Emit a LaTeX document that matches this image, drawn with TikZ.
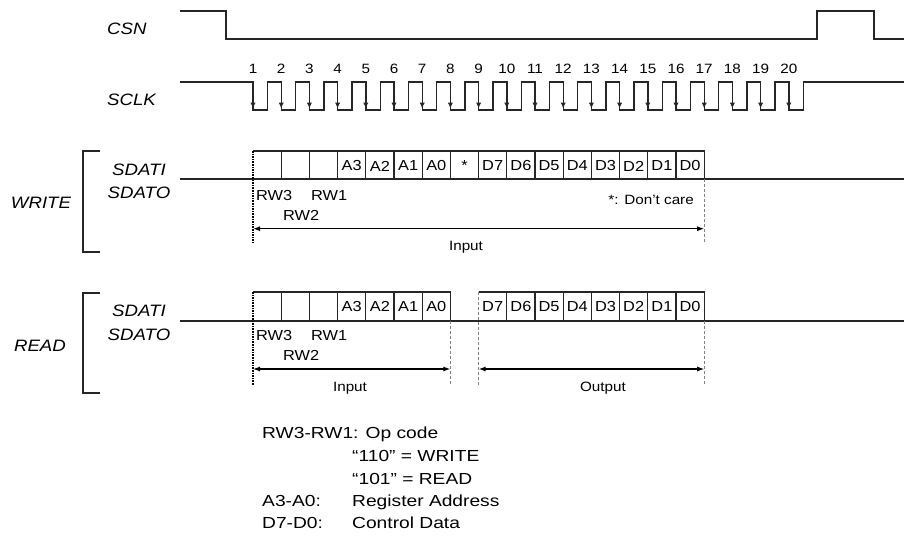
\documentclass[tikz,border=0pt]{standalone}
\usepackage{fontspec}
\setmainfont[FakeStretch=1.13]{Liberation Sans}
\newfontfamily\legendfont[FakeStretch=1.2]{Liberation Sans}
\usetikzlibrary{arrows.meta}
\usetikzlibrary{positioning}

\def\xo{253}
\def\pw{28.2}

\begin{document}
\begin{tikzpicture}[
    x=1pt, y=-1pt,
    wave/.style={line width=1.4pt, line join=miter, black!85},
    cellline/.style={line width=1.2pt, black!85},
    sig/.style={font=\fontsize{16.5}{25}\selectfont\itshape, inner sep=0pt, align=center},
    lbl/.style={font=\fontsize{13.5}{15}\selectfont, inner sep=0pt},
    celltext/.style={font=\fontsize{14.5}{16}\selectfont, inner sep=0pt},
    legtext/.style={font=\legendfont\fontsize{16}{18}\selectfont, inner sep=0pt, anchor=base west},
    guide/.style={densely dashed, line width=0.6pt, gray},
    firstedge/.style={densely dotted, line width=1.6pt},
    spanarrow/.style={{Latex[length=7pt,width=5pt]}-{Latex[length=7pt,width=5pt]}, line width=1.2pt},
    clkedge/.style={-{Latex[length=6pt,width=5.5pt]}, line width=1.4pt, black!85}
]
  \useasboundingbox (0,0) rectangle (904,535);

  % Signal names
  \node[sig, anchor=base west] (csn) at (107,35) {CSN};
  \node[sig, anchor=base west] (sclk) at (107,105) {SCLK};

  % CSN waveform
  \draw[wave] (180,11) -- (226,11) -- (226,39) -- (817,39) -- (817,11) -- (874,11) -- (874,39) -- (904,39);

  % SCLK waveform
  \draw[wave] (180,82)
    \foreach \i in {0,...,19} { -- (\xo+\i*\pw,82) -- (\xo+\i*\pw,110) -- (\xo+\i*\pw+14.5,110) -- (\xo+\i*\pw+14.5,82) }
    -- (904,82);
  \foreach \i in {0,...,19}
    \draw[clkedge] (\xo+\i*\pw,82) -- (\xo+\i*\pw,108.5);
  \foreach \i in {1,...,20}
    \node[lbl, anchor=base] (n\i) at (\xo+\i*\pw-\pw,74) {\i};

  % ---------------- WRITE ----------------
  \node[sig, anchor=base] (write) at (41,208) {WRITE};
  \draw[cellline] (100,151) -- (83,151) -- (83,252) -- (100,252);
  \node[sig, anchor=base] (wsdati) at (139,175) {SDATI};
  \node[sig, anchor=base] (wsdato) at (139,198) {SDATO};

  \draw[cellline] (\xo,151) -- (\xo+16*\pw,151) -- (\xo+16*\pw,179);
  \foreach \i in {1,...,15}
    \draw[cellline] (\xo+\i*\pw,151) -- (\xo+\i*\pw,179);
  \foreach \t [count=\i from 0] in {{},{},{},A3,A2,A1,A0,*,D7,D6,D5,D4,D3,D2,D1,D0}
    \node[celltext] (w\i) at (\xo+\i*\pw+\pw/2,166) {\t};
  \draw[wave] (180,179) -- (904,179);

  \draw[firstedge] (\xo,151) -- (\xo,243);
  \draw[guide] (\xo+16*\pw,179) -- (\xo+16*\pw,243);

  \node[celltext, anchor=base west] (wrw3) at (256,200) {RW3};
  \node[celltext, anchor=base west] (wrw1) at (311,200) {RW1};
  \node[celltext, anchor=base west] (wrw2) at (283,220) {RW2};
  \node[lbl, anchor=base east] (dontcare) at (694,204) {*: Don't care};

  \coordinate (wl) at (\xo,228.7);
  \coordinate (wr) at (\xo+16*\pw,228.7);
  \draw[spanarrow] (wl) -- (wr);
  \node[lbl, anchor=base] (winput) at (466,250) {Input};

  % ---------------- READ ----------------
  \node[sig, anchor=base] (read) at (40,351) {READ};
  \draw[cellline] (100,293) -- (83,293) -- (83,393) -- (100,393);
  \node[sig, anchor=base] (rsdati) at (139,316) {SDATI};
  \node[sig, anchor=base] (rsdato) at (139,340) {SDATO};

  \draw[cellline] (\xo,292) -- (\xo+7*\pw,292) -- (\xo+7*\pw,321);
  \foreach \i in {1,...,6}
    \draw[cellline] (\xo+\i*\pw,292) -- (\xo+\i*\pw,321);
  \draw[cellline] (\xo+8*\pw,292) -- (\xo+16*\pw,292) -- (\xo+16*\pw,321);
  \foreach \i in {9,...,15}
    \draw[cellline] (\xo+\i*\pw,292) -- (\xo+\i*\pw,321);
  \foreach \t [count=\i from 0] in {{},{},{},A3,A2,A1,A0}
    \node[celltext] (ra\i) at (\xo+\i*\pw+\pw/2,306.5) {\t};
  \foreach \t [count=\i from 8] in {D7,D6,D5,D4,D3,D2,D1,D0}
    \node[celltext] (rd\i) at (\xo+\i*\pw+\pw/2,306.5) {\t};
  \draw[wave] (180,321) -- (904,321);

  \draw[firstedge] (\xo,292) -- (\xo,385);
  \draw[guide] (\xo+7*\pw,321) -- (\xo+7*\pw,385);
  \draw[guide] (\xo+8*\pw,292) -- (\xo+8*\pw,385);
  \draw[guide] (\xo+16*\pw,321) -- (\xo+16*\pw,385);

  \node[celltext, anchor=base west] (rrw3) at (256,340) {RW3};
  \node[celltext, anchor=base west] (rrw1) at (311,340) {RW1};
  \node[celltext, anchor=base west] (rrw2) at (283,360) {RW2};

  \coordinate (ril) at (\xo,369);
  \coordinate (rir) at (\xo+7*\pw,369);
  \coordinate (rol) at (\xo+8*\pw,369);
  \coordinate (ror) at (\xo+16*\pw,369);
  \draw[spanarrow] (ril) -- (rir);
  \draw[spanarrow] (rol) -- (ror);
  \node[lbl, anchor=base] (rinput) at (350,391) {Input};
  \node[lbl, anchor=base] (routput) at (603,391) {Output};

  % Legend
  \node[legtext] (opcode) at (262,438) {RW3-RW1: Op code};
  \node[legtext] (opwrite) at (352,461) {“110” = WRITE};
  \node[legtext] (opread) at (352,484) {“101” = READ};
  \node[legtext] (addrkey) at (262,506) {A3-A0:};
  \node[legtext] (addrval) at (352,506) {Register Address};
  \node[legtext] (datakey) at (262,528) {D7-D0:};
  \node[legtext] (dataval) at (352,528) {Control Data};

\end{tikzpicture}
\end{document}
